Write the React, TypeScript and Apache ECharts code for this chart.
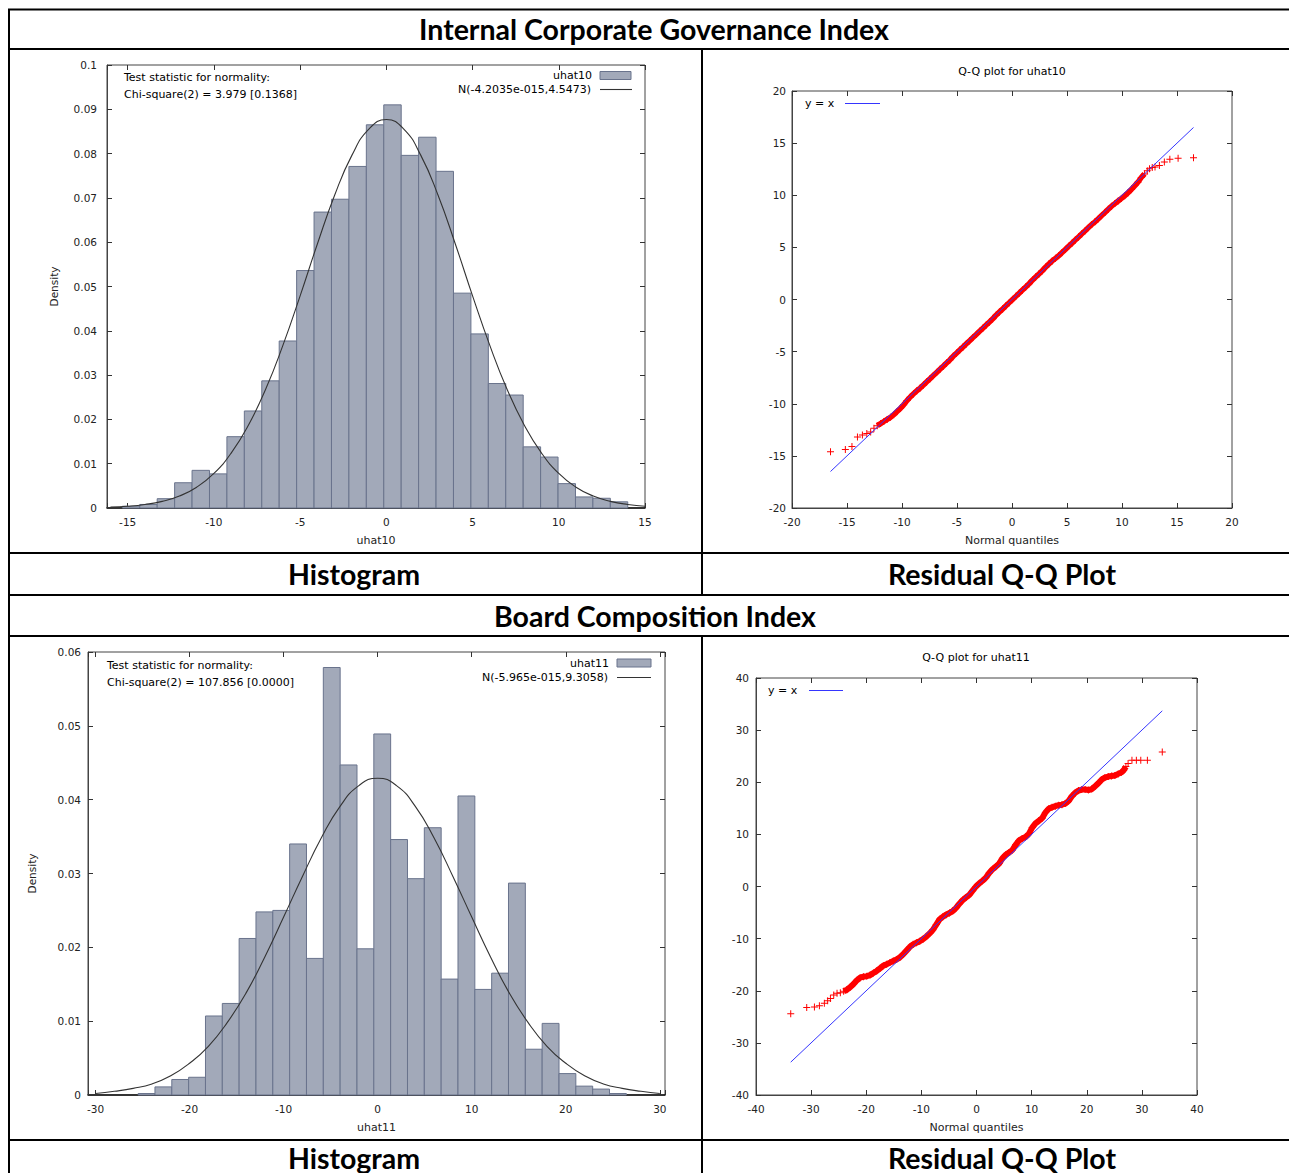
import React, { useEffect, useRef } from 'react';
import * as echarts from 'echarts';

// ---------- data ----------
const hist1Start = -15.31;
const hist1BinWidth = 1.0107;
const hist1Density = [0.0004, 0.0008, 0.0021, 0.0057, 0.0085, 0.0077, 0.0161, 0.0219, 0.0287, 0.0377, 0.0536, 0.0668, 0.0697, 0.0771, 0.0865, 0.091, 0.0796, 0.0837, 0.076, 0.0485, 0.0393, 0.0281, 0.0255, 0.0138, 0.0115, 0.0055, 0.0025, 0.0022, 0.0014];
const curve1X = [-16, -15, -14, -13, -12, -11, -10, -9, -8, -7, -6, -5, -4, -3, -2, -1, 0, 1, 2, 3, 4, 5, 6, 7, 8, 9, 10, 11, 12, 13, 14, 15];
const curve1Y = [0.0002, 0.0004, 0.0008, 0.0015, 0.0027, 0.0047, 0.0078, 0.0124, 0.0187, 0.0268, 0.0367, 0.0479, 0.0596, 0.0706, 0.0796, 0.0856, 0.0877, 0.0856, 0.0796, 0.0706, 0.0596, 0.0479, 0.0367, 0.0268, 0.0187, 0.0124, 0.0078, 0.0047, 0.0027, 0.0015, 0.0008, 0.0004];

const hist2Start = -25.47;
const hist2BinWidth = 1.79;
const hist2Density = [0.0002, 0.0011, 0.0021, 0.0024, 0.0107, 0.0124, 0.0212, 0.0248, 0.025, 0.034, 0.0185, 0.0579, 0.0447, 0.0198, 0.0489, 0.0346, 0.0293, 0.0362, 0.0157, 0.0405, 0.0143, 0.0165, 0.0287, 0.0062, 0.0097, 0.0029, 0.0012, 0.0008, 0.0002];
const curve2X = [-30, -28, -26, -24, -22, -20, -18, -16, -14, -12, -10, -8, -6, -4, -2, 0, 2, 4, 6, 8, 10, 12, 14, 16, 18, 20, 22, 24, 26, 28, 30];
const curve2Y = [0.0002, 0.0005, 0.0009, 0.0015, 0.0026, 0.0043, 0.0066, 0.0098, 0.0138, 0.0187, 0.0241, 0.0296, 0.0348, 0.0391, 0.0419, 0.0429, 0.0419, 0.0391, 0.0348, 0.0296, 0.0241, 0.0187, 0.0138, 0.0098, 0.0066, 0.0043, 0.0026, 0.0015, 0.0009, 0.0005, 0.0002];

const qq1Q = [-16.5, -15.15, -14.55, -14.05, -13.6, -13.2, -12.85, -12.55, -12.25, -11.95, -11.65, -11.35, -11.05, -10.75, -10.45, -10.15, -9.85, -9.55, -9.25, -8.95, -8.65, -8.35, -8.05, -7.75, -7.45, -7.15, -6.85, -6.55, -6.25, -5.95, -5.65, -5.35, -5.05, -4.75, -4.45, -4.15, -3.85, -3.55, -3.25, -2.95, -2.65, -2.35, -2.05, -1.75, -1.45, -1.15, -0.85, -0.55, -0.25, 0.05, 0.35, 0.65, 0.95, 1.25, 1.55, 1.85, 2.15, 2.45, 2.75, 3.05, 3.35, 3.65, 3.95, 4.25, 4.55, 4.85, 5.15, 5.45, 5.75, 6.05, 6.35, 6.65, 6.95, 7.25, 7.55, 7.85, 8.15, 8.45, 8.75, 9.05, 9.35, 9.65, 9.95, 10.25, 10.55, 10.85, 11.15, 11.45, 11.75, 12.05, 12.3, 12.5, 12.75, 13.0, 13.4, 13.85, 14.35, 15.1, 16.5];
const qq1Y = [-14.6, -14.4, -14.1, -13.2, -13.0, -12.85, -12.7, -12.35, -12.1, -11.9, -11.7, -11.5, -11.3, -11.05, -10.75, -10.45, -10.1, -9.7, -9.35, -9.05, -8.75, -8.5, -8.2, -7.9, -7.6, -7.3, -7.0, -6.7, -6.4, -6.1, -5.8, -5.45, -5.15, -4.85, -4.55, -4.25, -3.95, -3.65, -3.35, -3.05, -2.75, -2.45, -2.15, -1.85, -1.5, -1.2, -0.9, -0.6, -0.3, 0.0, 0.3, 0.6, 0.9, 1.2, 1.5, 1.85, 2.15, 2.45, 2.75, 3.1, 3.4, 3.7, 3.95, 4.2, 4.5, 4.8, 5.1, 5.4, 5.7, 6.0, 6.3, 6.6, 6.9, 7.2, 7.45, 7.75, 8.05, 8.35, 8.65, 8.95, 9.2, 9.45, 9.7, 9.95, 10.25, 10.55, 10.9, 11.25, 11.7, 12.05, 12.35, 12.55, 12.65, 12.7, 12.85, 13.2, 13.45, 13.55, 13.6];
const qq1Line = [-16.5, 16.5];
const qq1DenseRange = [8, 89]; // indices of the solid run of overlapping points

const qq2Q = [-33.7, -30.8, -29.4, -28.5, -27.6, -27.0, -26.5, -25.9, -25.3, -24.7, -24.1, -23.5, -22.9, -22.3, -21.7, -21.1, -20.5, -19.9, -19.3, -18.7, -18.1, -17.5, -16.9, -16.3, -15.7, -15.1, -14.5, -13.9, -13.3, -12.7, -12.1, -11.5, -10.9, -10.3, -9.7, -9.1, -8.5, -7.9, -7.3, -6.7, -6.1, -5.5, -4.9, -4.3, -3.7, -3.1, -2.5, -1.9, -1.3, -0.7, -0.1, 0.5, 1.1, 1.7, 2.3, 2.9, 3.5, 4.1, 4.7, 5.3, 5.9, 6.5, 7.1, 7.7, 8.3, 8.9, 9.5, 10.1, 10.7, 11.3, 11.9, 12.5, 13.1, 13.7, 14.3, 14.9, 15.5, 16.1, 16.7, 17.3, 17.9, 18.5, 19.1, 19.7, 20.3, 20.9, 21.5, 22.1, 22.7, 23.3, 23.9, 24.5, 25.1, 25.7, 26.3, 26.7, 27.1, 27.5, 28.2, 29.0, 29.8, 31.0, 33.7];
const qq2Y = [-24.4, -23.2, -23.1, -22.9, -22.4, -21.9, -21.5, -20.8, -20.5, -20.4, -20.1, -19.8, -19.3, -18.7, -18.0, -17.5, -17.3, -17.2, -17.0, -16.6, -16.2, -15.7, -15.2, -14.9, -14.6, -14.3, -14.0, -13.6, -13.0, -12.3, -11.6, -11.1, -10.8, -10.5, -10.1, -9.6, -9.0, -8.3, -7.3, -6.3, -5.8, -5.4, -5.1, -4.7, -4.1, -3.3, -2.6, -2.1, -1.6, -0.8, 0.0, 0.6, 1.1, 1.7, 2.6, 3.3, 3.8, 4.4, 5.4, 6.1, 6.5, 7.0, 8.0, 8.8, 9.2, 9.5, 10.1, 11.3, 12.1, 12.6, 13.1, 14.2, 14.9, 15.2, 15.4, 15.6, 15.7, 15.9, 16.4, 17.3, 18.0, 18.4, 18.6, 18.6, 18.5, 18.7, 19.2, 19.8, 20.5, 20.9, 21.1, 21.2, 21.3, 21.6, 21.9, 22.3, 23.0, 23.6, 24.2, 24.2, 24.2, 24.2, 25.8];
const qq2Line = [-33.7, 33.7];
const qq2DenseRange = [10, 96];

// ---------- styles ----------
const FONT = 'DejaVu Sans';
const HEAD_FONT = 'Lato';
const BAR_FILL = '#a2a9b9';
const BAR_STROKE = '#69738c';
const PLUS = 'path://M3,0H4V3H7V4H4V7H3V4H0V3H3Z';
const TICK_SIZE = 10.5;

const grids = [
  { left: 107, top: 65, width: 538, height: 443 },
  { left: 792, top: 91, width: 440, height: 417 },
  { left: 88, top: 652, width: 577, height: 443 },
  { left: 756, top: 678, width: 441, height: 417 },
];

type AxSpec = { min: number; max: number; step: number; name?: string; labelMargin: number; nameGap?: number; heavy?: boolean };

const stepFormatter = (step: number) => (v: number) => {
  const r = Math.round(v / step) * step;
  if (Math.abs(v - r) > 1e-6) return '';
  return String(+r.toFixed(4));
};

function xAxes(gi: number, s: AxSpec) {
  const base = {
    type: 'value', gridIndex: gi, min: s.min, max: s.max, minInterval: s.step, maxInterval: s.step,
    splitLine: { show: false },
    axisTick: { inside: true, length: 5, lineStyle: { color: '#333', width: 1 } },
  };
  return [
    {
      ...base, position: 'bottom',
      axisLine: { show: true, onZero: false, lineStyle: { color: s.heavy ? '#111' : '#444', width: s.heavy ? 1.6 : 1 } },
      axisLabel: { formatter: stepFormatter(s.step), fontFamily: FONT, fontSize: TICK_SIZE, color: '#222', margin: s.labelMargin },
      name: s.name, nameLocation: 'middle', nameGap: s.nameGap,
      nameTextStyle: { fontFamily: FONT, fontSize: 11, color: '#222' },
    },
    { ...base, position: 'top', axisLine: { show: false, onZero: false }, axisLabel: { show: false } },
  ];
}

function yAxes(gi: number, s: AxSpec) {
  const base = {
    type: 'value', gridIndex: gi, min: s.min, max: s.max, minInterval: s.step, maxInterval: s.step,
    splitLine: { show: false },
    axisTick: { inside: true, length: 5, lineStyle: { color: '#333', width: 1 } },
  };
  return [
    {
      ...base, position: 'left',
      axisLine: { show: true, onZero: false, lineStyle: { color: '#444' } },
      axisLabel: { formatter: stepFormatter(s.step), fontFamily: FONT, fontSize: TICK_SIZE, color: '#222', margin: s.labelMargin },
      name: s.name, nameLocation: 'middle', nameGap: s.nameGap, nameRotate: 90,
      nameTextStyle: { fontFamily: FONT, fontSize: 10.5, color: '#222' },
    },
    { ...base, position: 'right', axisLine: { show: false, onZero: false }, axisLabel: { show: false } },
  ];
}

function histSeries(name: string, gi: number, start: number, w: number, dens: number[]) {
  return {
    type: 'custom', name, xAxisIndex: 2 * gi, yAxisIndex: 2 * gi, silent: true,
    data: dens.map((d, i) => [start + i * w, start + (i + 1) * w, d]),
    encode: { x: [0, 1], y: 2 },
    renderItem: (_p: any, api: any) => {
      const a = api.coord([api.value(0), api.value(2)]);
      const b = api.coord([api.value(1), 0]);
      return {
        type: 'rect',
        shape: { x: a[0], y: a[1], width: b[0] - a[0], height: b[1] - a[1] },
        style: { fill: BAR_FILL, stroke: BAR_STROKE, lineWidth: 1 },
      };
    },
  };
}

function curveSeries(name: string, gi: number, xs: number[], ys: number[]) {
  return {
    type: 'line', name, xAxisIndex: 2 * gi, yAxisIndex: 2 * gi, silent: true,
    data: xs.map((x, i) => [x, ys[i]]), smooth: true, symbol: 'none',
    lineStyle: { color: '#333', width: 1.1 }, z: 3,
  };
}

function qqPoints(name: string, gi: number, qs: number[], ys: number[]) {
  return {
    type: 'scatter', name, xAxisIndex: 2 * gi, yAxisIndex: 2 * gi, silent: true,
    data: qs.map((q, i) => [q, ys[i]]), symbol: PLUS, symbolSize: 7,
    itemStyle: { color: '#ff0000', opacity: 1 }, z: 2,
  };
}

// the central run of quantile points overlaps into a solid red band
function qqBand(name: string, gi: number, qs: number[], ys: number[], range: number[], width: number) {
  const pts = qs.map((q, i) => [q, ys[i]]).slice(range[0], range[1] + 1);
  return {
    type: 'line', name, xAxisIndex: 2 * gi, yAxisIndex: 2 * gi, silent: true,
    data: pts, symbol: 'none', lineStyle: { color: '#ff0000', width }, z: 2,
  };
}

function qqLine(gi: number, ends: number[]) {
  return {
    type: 'line', name: 'y = x', xAxisIndex: 2 * gi, yAxisIndex: 2 * gi, silent: true,
    data: ends.map((v) => [v, v]), symbol: 'none',
    lineStyle: { color: '#3535ff', width: 1 }, z: 4,
  };
}

const ln = (x1: number, y1: number, x2: number, y2: number, w = 2, c = '#000') => ({
  type: 'line', silent: true, shape: { x1, y1, x2, y2 }, style: { stroke: c, lineWidth: w },
});
const tx = (x: number, y: number, text: string, align: string, font: string) => ({
  type: 'text', silent: true, x, y,
  style: { text, fill: '#000', font, align, verticalAlign: 'middle', textAlign: align, textVerticalAlign: 'middle' },
});
const HEAD = `bold 28.5px ${HEAD_FONT}`;
const SMALL = `11px '${FONT}'`;

const graphics = [
  // table rules
  ln(8, 9.5, 1289, 9.5), ln(8, 49, 1289, 49), ln(8, 553, 1289, 553), ln(8, 595, 1289, 595),
  ln(8, 636, 1289, 636), ln(8, 1140, 1289, 1140),
  ln(9, 9, 9, 1173), ln(702, 49, 702, 595), ln(702, 636, 702, 1173),
  // headers
  tx(654, 29, 'Internal Corporate Governance Index', 'center', HEAD),
  tx(354, 574, 'Histogram', 'center', HEAD),
  tx(1002, 574, 'Residual Q-Q Plot', 'center', HEAD),
  tx(655, 616, 'Board Composition Index', 'center', HEAD),
  tx(354, 1158, 'Histogram', 'center', HEAD),
  tx(1002, 1158, 'Residual Q-Q Plot', 'center', HEAD),
  // histogram 1 annotations
  tx(124, 77, 'Test statistic for normality:', 'left', SMALL),
  tx(124, 94.5, 'Chi-square(2) = 3.979 [0.1368]', 'left', SMALL),
  tx(592, 75.5, 'uhat10', 'right', SMALL),
  { type: 'rect', silent: true, shape: { x: 600, y: 71.5, width: 31, height: 8 }, style: { fill: BAR_FILL, stroke: BAR_STROKE, lineWidth: 1 } },
  tx(591, 89.5, 'N(-4.2035e-015,4.5473)', 'right', SMALL),
  ln(600, 89.5, 632, 89.5, 1.1, '#333'),
  // qq 1
  tx(1012, 71, 'Q-Q plot for uhat10', 'center', SMALL),
  tx(805, 103, 'y = x', 'left', SMALL),
  ln(845, 103.5, 880, 103.5, 1, '#3535ff'),
  // histogram 2 annotations
  tx(107, 665, 'Test statistic for normality:', 'left', SMALL),
  tx(107, 682.5, 'Chi-square(2) = 107.856 [0.0000]', 'left', SMALL),
  tx(609, 663, 'uhat11', 'right', SMALL),
  { type: 'rect', silent: true, shape: { x: 617, y: 659, width: 34, height: 8 }, style: { fill: BAR_FILL, stroke: BAR_STROKE, lineWidth: 1 } },
  tx(608, 677, 'N(-5.965e-015,9.3058)', 'right', SMALL),
  ln(617, 677.5, 651, 677.5, 1.1, '#333'),
  // qq 2
  tx(976, 657, 'Q-Q plot for uhat11', 'center', SMALL),
  tx(768, 690, 'y = x', 'left', SMALL),
  ln(809, 690.5, 843, 690.5, 1, '#3535ff'),
];

const option: any = {
  animation: false,
  backgroundColor: '#ffffff',
  grid: grids.map((g) => ({ ...g, show: true, borderColor: '#444', borderWidth: 1, backgroundColor: 'transparent', containLabel: false })),
  xAxis: [
    ...xAxes(0, { min: -16.2, max: 15, step: 5, name: 'uhat10', labelMargin: 8, nameGap: 27, heavy: true }),
    ...xAxes(1, { min: -20, max: 20, step: 5, name: 'Normal quantiles', labelMargin: 8, nameGap: 27 }),
    ...xAxes(2, { min: -30.8, max: 30.55, step: 10, name: 'uhat11', labelMargin: 8, nameGap: 27, heavy: true }),
    ...xAxes(3, { min: -40, max: 40, step: 10, name: 'Normal quantiles', labelMargin: 8, nameGap: 27 }),
  ],
  yAxis: [
    ...yAxes(0, { min: 0, max: 0.1, step: 0.01, name: 'Density', labelMargin: 10, nameGap: 48 }),
    ...yAxes(1, { min: -20, max: 20, step: 5, labelMargin: 6 }),
    ...yAxes(2, { min: 0, max: 0.06, step: 0.01, name: 'Density', labelMargin: 7, nameGap: 51 }),
    ...yAxes(3, { min: -40, max: 40, step: 10, labelMargin: 7 }),
  ],
  series: [
    histSeries('uhat10', 0, hist1Start, hist1BinWidth, hist1Density),
    curveSeries('N(-4.2035e-015,4.5473)', 0, curve1X, curve1Y),
    qqBand('uhat10 quantiles (dense)', 1, qq1Q, qq1Y, qq1DenseRange, 5.5),
    qqPoints('uhat10 quantiles', 1, qq1Q, qq1Y),
    qqLine(1, qq1Line),
    histSeries('uhat11', 2, hist2Start, hist2BinWidth, hist2Density),
    curveSeries('N(-5.965e-015,9.3058)', 2, curve2X, curve2Y),
    qqBand('uhat11 quantiles (dense)', 3, qq2Q, qq2Y, qq2DenseRange, 6),
    qqPoints('uhat11 quantiles', 3, qq2Q, qq2Y),
    qqLine(3, qq2Line),
  ],
  graphic: graphics,
};

export default function App() {
  const ref = useRef<HTMLDivElement>(null);
  useEffect(() => {
    document.body.style.margin = '0';
    const chart = echarts.init(ref.current as HTMLDivElement, null, { renderer: 'svg' });
    chart.setOption(option);
    return () => chart.dispose();
  }, []);
  return <div ref={ref} style={{ width: 1289, height: 1173, background: '#fff' }} />;
}
